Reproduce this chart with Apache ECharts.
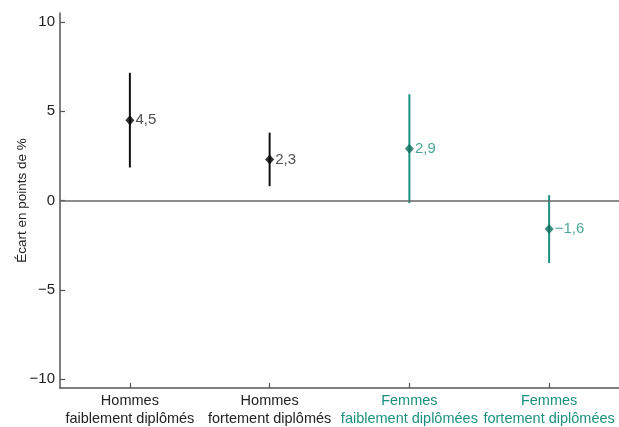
<!DOCTYPE html>
<html>
<head>
<meta charset="utf-8">
<script src="https://cdn.jsdelivr.net/npm/echarts@6/dist/echarts.min.js"></script>
<style>
  html, body { margin: 0; padding: 0; background: #fff; }
  #chart { width: 619px; height: 427px; }
</style>
</head>
<body>
<div id="chart"></div>
<script>
// Groups and their estimates with confidence bounds (points de %)
const categories = ['Hommes\nfaiblement diplômés', 'Hommes\nfortement diplômés', 'Femmes\nfaiblement diplômées', 'Femmes\nfortement diplômées'];
const groups = ['hommes', 'hommes', 'femmes', 'femmes'];
const estimates = [4.5, 2.3, 2.9, -1.6];
const lowerBounds = [1.85, 0.8, -0.15, -3.5];
const upperBounds = [7.15, 3.8, 5.95, 0.3];
const yTicks = [-10, -5, 0, 5, 10];

const FONT = "'Liberation Sans', Arial, sans-serif";
const lineColors = { hommes: '#111111', femmes: '#1b917f' };
const markerColors = { hommes: '#000000', femmes: '#0f6f5e' };
const textColors = { hommes: '#222222', femmes: '#1b917f' };

const fmt = v => (v < 0 ? '\u2212' : '') + String(Math.abs(v)).replace('.', ',');

const chart = echarts.init(document.getElementById('chart'), null, { renderer: 'canvas' });

chart.setOption({
  animation: false,
  backgroundColor: '#ffffff',
  grid: { left: 60, right: 0, top: 13, bottom: 39, containLabel: false, outerBoundsMode: 'none' },
  xAxis: {
    type: 'category',
    data: categories,
    boundaryGap: true,
    axisLine: { show: true, onZero: false, lineStyle: { color: '#555', width: 1.5 } },
    axisTick: { show: true, inside: true, alignWithLabel: true, length: 5, lineStyle: { color: '#555', width: 1.2 } },
    axisLabel: {
      interval: 0,
      hideOverlap: false,
      margin: 4,
      fontFamily: FONT,
      fontSize: 14.5,
      lineHeight: 18,
      color: (value, index) => textColors[groups[index]]
    },
    splitLine: { show: false }
  },
  yAxis: {
    type: 'value',
    min: -10.5,
    max: 10.5,
    name: 'Écart en points de %',
    nameLocation: 'middle',
    nameGap: 31,
    nameMoveOverlap: false,
    nameTextStyle: { fontFamily: FONT, fontSize: 13.5, color: '#222' },
    axisLine: { show: true, lineStyle: { color: '#555', width: 1.5 } },
    axisTick: { show: true, inside: true, length: 5, customValues: yTicks, lineStyle: { color: '#555', width: 1.2 } },
    axisLabel: {
      customValues: yTicks,
      margin: 5,
      fontFamily: FONT,
      fontSize: 15,
      color: '#222',
      formatter: v => fmt(v)
    },
    splitLine: { show: false }
  },
  series: [
    {
      type: 'custom',
      z: 2,
      data: categories.map((c, i) => [i, lowerBounds[i], upperBounds[i]]),
      renderItem: (params, api) => {
        const i = api.value(0);
        const p1 = api.coord([i, api.value(1)]);
        const p2 = api.coord([i, api.value(2)]);
        return {
          type: 'line',
          shape: { x1: p1[0], y1: p1[1], x2: p2[0], y2: p2[1] },
          style: { stroke: lineColors[groups[i]], lineWidth: 2 }
        };
      }
    },
    {
      type: 'scatter',
      z: 3,
      symbol: 'diamond',
      symbolSize: [9, 10],
      data: estimates.map((v, i) => ({
        value: [i, v],
        itemStyle: { color: markerColors[groups[i]] },
        label: { color: textColors[groups[i]] }
      })),
      label: {
        show: true,
        position: 'right',
        distance: 1,
        fontFamily: FONT,
        fontSize: 15,
        formatter: p => fmt(p.value[1])
      },
      markLine: {
        silent: true,
        symbol: 'none',
        label: { show: false },
        lineStyle: { color: '#666', width: 1.5, type: 'solid' },
        data: [{ yAxis: 0 }]
      }
    }
  ]
});
</script>
</body>
</html>
